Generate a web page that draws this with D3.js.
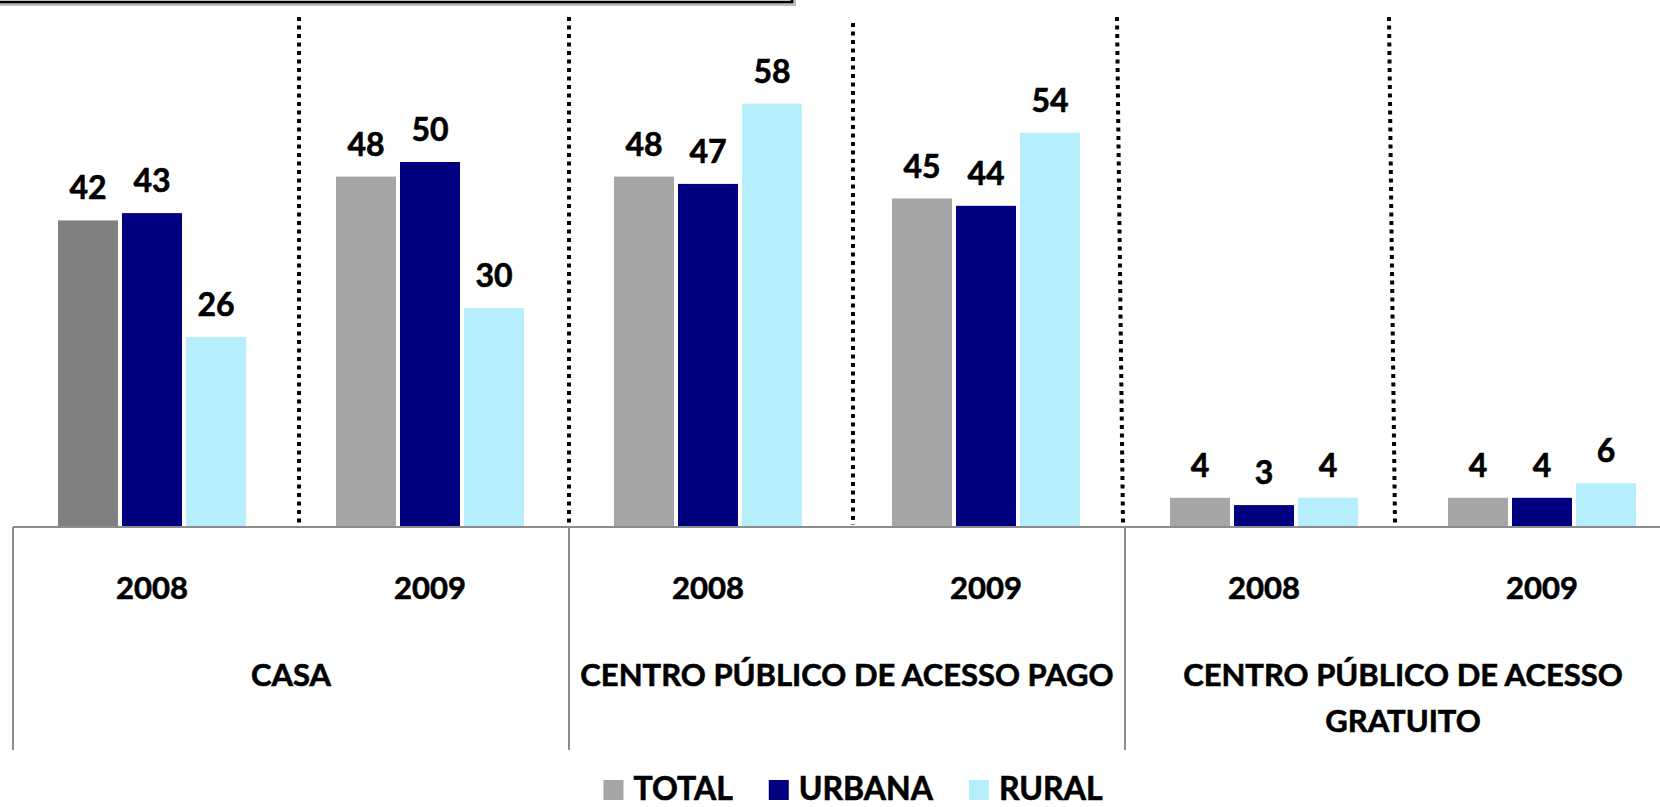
<!DOCTYPE html>
<html>
<head>
<meta charset="utf-8">
<script src="https://cdn.jsdelivr.net/npm/d3@7"></script>
<style>
  html, body { margin: 0; padding: 0; background: #fff; overflow: hidden; }
  text { font-family: Lato, "Open Sans", sans-serif; font-weight: bold; fill: #000; stroke: #000; stroke-width: 0.6px; }
</style>
</head>
<body>
<svg width="1660" height="807"></svg>
<script>
// data
const groups = ["CASA", "CENTRO PÚBLICO DE ACESSO PAGO", "CENTRO PÚBLICO DE ACESSO GRATUITO"];
const groupLines = [["CASA"], ["CENTRO PÚBLICO DE ACESSO PAGO"], ["CENTRO PÚBLICO DE ACESSO", "GRATUITO"]];
const years = ["2008", "2009"];
const series = ["TOTAL", "URBANA", "RURAL"];
const totalValues = [42, 48, 48, 45, 4, 4];
const urbanaValues = [43, 50, 47, 44, 3, 4];
const ruralValues = [26, 30, 58, 54, 4, 6];
const seriesColors = ["#A6A6A6", "#000080", "#B7EEFC"];

const svg = d3.select('svg');

const baseY = 527;
const fontSize = 31;

// one slot per group/year
const slots = [];
groups.forEach((g, gi) => years.forEach((y, yi) => slots.push({ group: gi, year: y, key: gi + '-' + y })));

const x = d3.scaleBand()
    .domain(slots.map(d => d.key))
    .range([13, 13 + 6 * 278]);

const xGroup = d3.scaleBand()
    .domain(groups)
    .range([13, 13 + 6 * 278]);

const xSeries = d3.scaleBand()
    .domain(series)
    .range([45, 233])
    .paddingInner(0.0625);

const y = d3.scaleLinear()
    .domain([0, 70])
    .range([baseY, 16]);

// the cut-off title box at the top
svg.append('rect')
    .attr('x', -10).attr('y', -60)
    .attr('width', 806).attr('height', 66)
    .attr('fill', '#bbb');
svg.append('rect')
    .attr('x', -10).attr('y', -60)
    .attr('width', 802).attr('height', 62)
    .attr('fill', '#fff')
    .attr('stroke', '#000')
    .attr('stroke-width', 2.5);

// dotted separators between the years
const dotOffsets = [8, 0, 6, -8, -14];
const dotTops = [17, 17, 23, 17, 17];
const dotSlant = [0, 0, 0, 6, 6];
d3.range(1, 6).forEach((i, k) => {
    const bx = x(slots[i].key) + dotOffsets[k];
    svg.append('line')
        .attr('x1', bx).attr('y1', dotTops[k])
        .attr('x2', bx + dotSlant[k]).attr('y2', baseY - 2)
        .attr('stroke', '#000')
        .attr('stroke-width', 4)
        .attr('stroke-dasharray', '4,4.5');
});

// bars
const rows = slots.map((s, i) => ({
    slot: s,
    values: [totalValues[i], urbanaValues[i], ruralValues[i]]
}));

const slotG = svg.selectAll('g.slot')
    .data(rows)
    .join('g')
    .attr('class', 'slot')
    .attr('transform', d => `translate(${x(d.slot.key)},0)`);

slotG.selectAll('rect')
    .data((d, i) => d.values.map((v, j) => ({ v, s: series[j], first: i === 0 && j === 0 })))
    .join('rect')
    .attr('x', d => xSeries(d.s))
    .attr('y', d => y(d.v))
    .attr('width', xSeries.bandwidth())
    .attr('height', d => baseY - y(d.v))
    .attr('fill', d => d.first ? '#808080' : seriesColors[series.indexOf(d.s)]);

slotG.selectAll('text')
    .data(d => d.values.map((v, j) => ({ v, s: series[j] })))
    .join('text')
    .attr('x', d => xSeries(d.s) + xSeries.bandwidth() / 2)
    .attr('y', d => y(d.v) - 21)
    .attr('text-anchor', 'middle')
    .attr('font-size', fontSize + 1)
    .text(d => d.v);

// category axis
svg.append('line')
    .attr('x1', 13).attr('y1', baseY)
    .attr('x2', 1660).attr('y2', baseY)
    .attr('stroke', '#8c8c8c')
    .attr('stroke-width', 2);

groups.forEach(g => {
    svg.append('line')
        .attr('x1', xGroup(g)).attr('y1', baseY)
        .attr('x2', xGroup(g)).attr('y2', 750)
        .attr('stroke', '#8c8c8c')
        .attr('stroke-width', 2);
});

svg.selectAll('text.year')
    .data(slots)
    .join('text')
    .attr('class', 'year')
    .attr('x', d => x(d.key) + x.bandwidth() / 2)
    .attr('y', 599)
    .attr('text-anchor', 'middle')
    .attr('font-size', fontSize)
    .text(d => d.year);

groups.forEach((g, gi) => {
    const t = svg.append('text')
        .attr('x', xGroup(g) + xGroup.bandwidth() / 2)
        .attr('y', 686)
        .attr('text-anchor', 'middle')
        .attr('font-size', fontSize);
    groupLines[gi].forEach((line, li) => {
        t.append('tspan')
            .attr('x', xGroup(g) + xGroup.bandwidth() / 2)
            .attr('dy', li === 0 ? 0 : 46)
            .text(line);
    });
});

// legend
const legend = svg.append('g');
let lx = 0;
series.forEach((s, i) => {
    const item = legend.append('g').attr('transform', `translate(${lx},0)`);
    item.append('rect')
        .attr('x', 0).attr('y', 780)
        .attr('width', 20).attr('height', 20)
        .attr('fill', seriesColors[i]);
    const t = item.append('text')
        .attr('x', 30).attr('y', 800)
        .attr('font-size', fontSize + 1)
        .text(s);
    lx += 30 + t.node().getComputedTextLength() + 36;
});
const legendWidth = lx - 36;
legend.attr('transform', `translate(${853 - legendWidth / 2},0)`);
</script>
</body>
</html>
